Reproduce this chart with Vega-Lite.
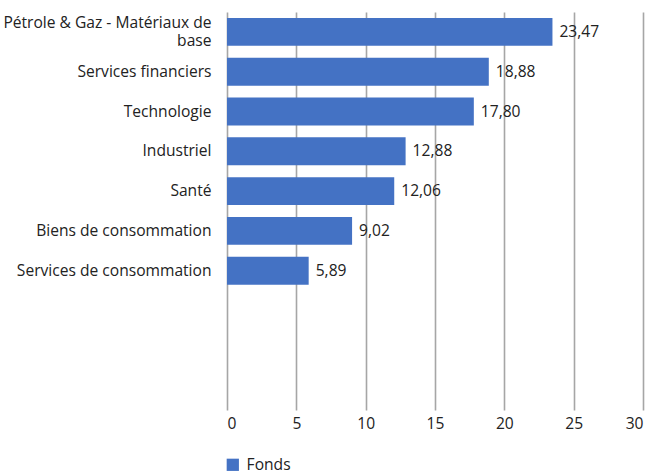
{
  "$schema": "https://vega.github.io/schema/vega-lite/v6.json",
  "width": 416,
  "height": 398,
  "autosize": "none",
  "padding": {"left": 227, "top": 12, "right": 13, "bottom": 64},
  "background": "white",
  "config": {
    "font": "Open Sans",
    "view": {"stroke": null},
    "locale": {"number": {"decimal": ",", "thousands": " ", "grouping": [3], "currency": ["", " €"]}}
  },
  "data": {
    "values": [
      {"secteur": "Pétrole & Gaz - Matériaux de base", "valeur": 23.47, "serie": "Fonds"},
      {"secteur": "Services financiers", "valeur": 18.88, "serie": "Fonds"},
      {"secteur": "Technologie", "valeur": 17.80, "serie": "Fonds"},
      {"secteur": "Industriel", "valeur": 12.88, "serie": "Fonds"},
      {"secteur": "Santé", "valeur": 12.06, "serie": "Fonds"},
      {"secteur": "Biens de consommation", "valeur": 9.02, "serie": "Fonds"},
      {"secteur": "Services de consommation", "valeur": 5.89, "serie": "Fonds"}
    ]
  },
  "encoding": {
    "y": {
      "field": "secteur",
      "type": "nominal",
      "scale": {
        "domain": ["Pétrole & Gaz - Matériaux de base", "Services financiers", "Technologie", "Industriel", "Santé", "Biens de consommation", "Services de consommation", " ", "  ", "   "],
        "paddingInner": 0.3,
        "paddingOuter": 0.15
      },
      "axis": {
        "title": null,
        "domain": false,
        "ticks": false,
        "labelFontSize": 15.6,
        "labelColor": "#222222",
        "labelPadding": 16,
        "labelLimit": 300,
        "labelLineHeight": 18,
        "labelOffset": {"condition": {"test": "datum.value == 'Pétrole & Gaz - Matériaux de base'", "value": -9}, "value": 0},
        "labelExpr": "datum.value == 'Pétrole & Gaz - Matériaux de base' ? ['Pétrole & Gaz - Matériaux de', 'base'] : datum.value"
      }
    },
    "x": {
      "field": "valeur",
      "type": "quantitative",
      "scale": {"domain": [0, 30], "nice": false},
      "axis": {
        "title": null,
        "values": [0, 5, 10, 15, 20, 25, 30],
        "domain": false,
        "ticks": false,
        "grid": true,
        "gridColor": "#a6a6a6",
        "gridWidth": 1.6,
        "labelFontSize": 15.6,
        "labelColor": "#222222",
        "labelPadding": 6,
        "format": "d"
      }
    }
  },
  "layer": [
    {
      "mark": {"type": "bar"},
      "encoding": {
        "color": {
          "field": "serie",
          "type": "nominal",
          "scale": {"range": ["#4472C4"]},
          "legend": {
            "title": null,
            "orient": "none",
            "legendX": -2,
            "legendY": 445,
            "symbolType": "square",
            "symbolSize": 150,
            "symbolStrokeWidth": 0,
            "labelFontSize": 15.6,
            "labelColor": "#222222",
            "labelOffset": 6
          }
        }
      }
    },
    {
      "mark": {"type": "text", "align": "left", "dx": 7, "fontSize": 15.6, "color": "#222222"},
      "encoding": {
        "text": {"field": "valeur", "type": "quantitative", "format": ".2f"}
      }
    }
  ]
}
